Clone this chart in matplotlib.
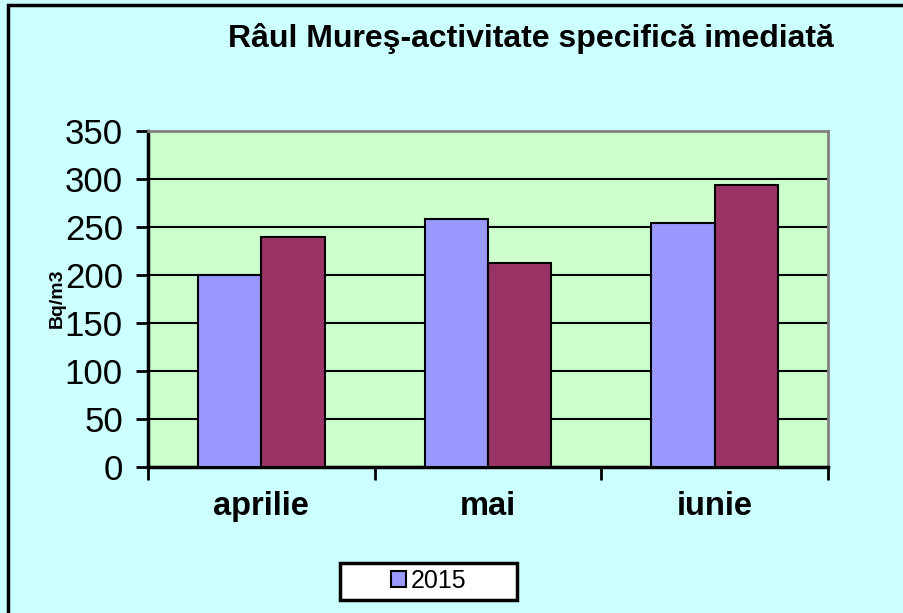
import matplotlib.pyplot as plt
from matplotlib.patches import Rectangle, Patch

plt.rcParams['font.family'] = ['Liberation Sans', 'DejaVu Sans']

months = ['aprilie', 'mai', 'iunie']
serie_a = [200, 258, 254]
serie_b = [240, 212, 294]
yticks = [0, 50, 100, 150, 200, 250, 300, 350]

W, H = 904, 613
fig = plt.figure(figsize=(W / 100, H / 100), dpi=100, facecolor='#CCFFFF')

# outer frame (right and bottom edges run off the picture)
fig.patches.append(Rectangle((8 / W, -0.1), 1.2, (H - 5) / H + 0.1, transform=fig.transFigure,
                             fill=False, edgecolor='black', linewidth=2.5))

ax = fig.add_axes([148 / W, 1 - 467 / H, 680 / W, 336 / H])
ax.set_facecolor('#CCFFCC')

x = range(len(months))
bw = 0.28
ax.bar([i - bw / 2 for i in x], serie_a, bw, color='#9999FF', edgecolor='black', linewidth=1.5, zorder=3)
ax.bar([i + bw / 2 for i in x], serie_b, bw, color='#993366', edgecolor='black', linewidth=1.5, zorder=3)

ax.set_xlim(-0.5, 2.5)
ax.set_ylim(0, 350)
ax.set_yticks(yticks)
ax.yaxis.grid(True, color='black', linewidth=1.5, zorder=1)
ax.set_axisbelow(True)

ax.set_xticks([-0.5, 0.5, 1.5, 2.5], minor=False)
ax.set_xticklabels([])
ax.set_xticks(list(x), minor=True)
ax.set_xticklabels(months, minor=True, fontsize=23.5, fontweight='bold')
ax.tick_params(axis='x', which='major', direction='out', length=9, width=2)
ax.tick_params(axis='x', which='minor', length=0, pad=17)
ax.tick_params(axis='y', direction='out', length=9, width=2, labelsize=25, pad=9)

for s in ['top', 'right']:
    ax.spines[s].set_color('gray')
    ax.spines[s].set_linewidth(2)
for s in ['left', 'bottom']:
    ax.spines[s].set_color('black')
    ax.spines[s].set_linewidth(2.5)

fig.text(531 / W, 1 - 39 / H, 'Râul Mureş-activitate specifică imediată', ha='center', va='center',
         fontsize=23, fontweight='bold')
fig.text(57 / W, 1 - 298 / H, 'Bq/m3', rotation=90, ha='center', va='center',
         fontsize=14, fontweight='bold')

# legend box with fixed size as in the original
fig.patches.append(Rectangle((340 / W, 1 - 600 / H), 177 / W, 37 / H, transform=fig.transFigure,
                             facecolor='white', edgecolor='black', linewidth=2.5))
fig.legend(handles=[Patch(facecolor='#9999FF', edgecolor='black', linewidth=1.5, label='2015')],
           loc='center', bbox_to_anchor=(429 / W, 1 - 581 / H), fontsize=18,
           frameon=False, handlelength=0.6, handleheight=0.6, handletextpad=0.2,
           borderpad=0, borderaxespad=0)

fig.savefig('out.png', dpi=100, facecolor=fig.get_facecolor())
